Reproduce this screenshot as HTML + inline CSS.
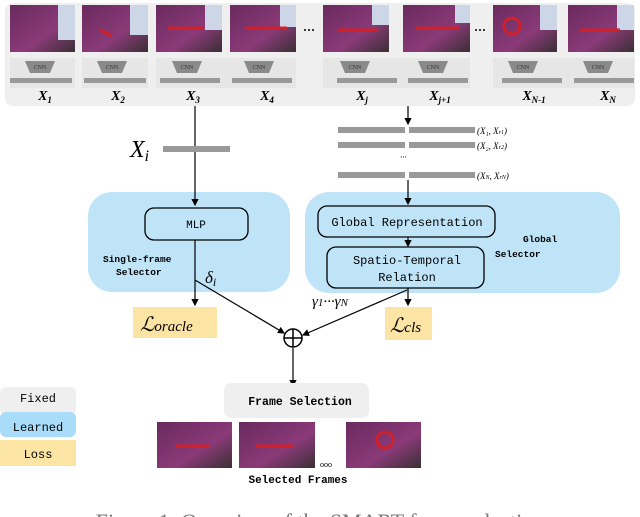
<!DOCTYPE html>
<html><head><meta charset="utf-8"><style>
body{margin:0;background:#fff}
svg{display:block}
.m{font-family:"Liberation Mono",monospace}
.s{font-family:"Liberation Serif",serif}
</style></head><body>
<svg width="640" height="517" viewBox="0 0 640 517" xmlns="http://www.w3.org/2000/svg">
<defs>
<linearGradient id="fr" x1="0" y1="0" x2="1" y2="1">
<stop offset="0" stop-color="#6a2a5e"/><stop offset="0.6" stop-color="#8a3a78"/><stop offset="1" stop-color="#3a3034"/>
</linearGradient>
<marker id="a" markerWidth="6" markerHeight="6" refX="5" refY="3" orient="auto"><path d="M0,0 L6,3 L0,6z" fill="#000"/></marker>
</defs>
<rect x="5" y="3" width="630" height="103" rx="8" fill="#efefef"/>
<g id="frames">
<g fill="url(#fr)">
<rect x="10" y="5" width="65" height="47"/><rect x="82" y="5" width="66" height="47"/>
<rect x="156" y="5" width="66" height="47"/><rect x="230" y="5" width="66" height="47"/>
<rect x="323" y="5" width="66" height="47"/><rect x="403" y="5" width="67" height="47"/>
<rect x="493" y="5" width="64" height="47"/><rect x="568" y="5" width="66" height="47"/>
</g>
<g fill="#ccd6e6"><rect x="58" y="5" width="17" height="35"/><rect x="130" y="5" width="18" height="30"/><rect x="205" y="5" width="17" height="25"/><rect x="280" y="5" width="16" height="22"/><rect x="372" y="5" width="17" height="20"/><rect x="455" y="5" width="15" height="18"/><rect x="540" y="5" width="17" height="25"/><rect x="617" y="5" width="17" height="25"/></g>
<g fill="none" stroke="#d0202a" stroke-width="3"><path d="M100,30 l12,6"/><path d="M168,28 h35"/><path d="M245,28 h42"/><path d="M338,30 h40"/><path d="M415,28 h45"/><circle cx="512" cy="26" r="8"/><path d="M580,30 h40"/></g>
</g>
<g fill="#000"><circle cx="305" cy="30" r="1"/><circle cx="309" cy="30" r="1"/><circle cx="313" cy="30" r="1"/><circle cx="476" cy="30" r="1"/><circle cx="480" cy="30" r="1"/><circle cx="484" cy="30" r="1"/></g>
<g fill="#e6e6e6"><rect x="10" y="58" width="65" height="30"/><rect x="82" y="58" width="66" height="30"/><rect x="156" y="58" width="140" height="30"/><rect x="323" y="58" width="147" height="30"/><rect x="493" y="58" width="141" height="30"/></g>
<g fill="#8a8a8a" id="cnn">
<path d="M25,61 h30 l-5,12 h-20z"/><path d="M97,61 h30 l-5,12 h-20z"/><path d="M172,61 h30 l-5,12 h-20z"/><path d="M244,61 h30 l-5,12 h-20z"/>
<path d="M340,61 h30 l-5,12 h-20z"/><path d="M418,61 h30 l-5,12 h-20z"/><path d="M508,61 h30 l-5,12 h-20z"/><path d="M583,61 h30 l-5,12 h-20z"/>
</g>
<g font-family="Liberation Serif" font-size="6" fill="#333" text-anchor="middle"><text x="40" y="69">CNN</text><text x="112" y="69">CNN</text><text x="187" y="69">CNN</text><text x="259" y="69">CNN</text><text x="355" y="69">CNN</text><text x="433" y="69">CNN</text><text x="523" y="69">CNN</text><text x="598" y="69">CNN</text></g>
<g fill="#999"><rect x="10" y="78" width="62" height="5"/><rect x="84" y="78" width="62" height="5"/><rect x="160" y="78" width="60" height="5"/><rect x="232" y="78" width="60" height="5"/><rect x="337" y="78" width="60" height="5"/><rect x="408" y="78" width="60" height="5"/><rect x="502" y="78" width="60" height="5"/><rect x="574" y="78" width="60" height="5"/></g>
<g class="s" font-size="14" font-weight="bold" font-style="italic" fill="#000" text-anchor="middle">
<text x="45" y="100">X<tspan font-size="9" dy="3">1</tspan></text><text x="118" y="100">X<tspan font-size="9" dy="3">2</tspan></text><text x="193" y="100">X<tspan font-size="9" dy="3">3</tspan></text><text x="267" y="100">X<tspan font-size="9" dy="3">4</tspan></text><text x="362" y="100">X<tspan font-size="9" dy="3">j</tspan></text><text x="440" y="100">X<tspan font-size="9" dy="3">j+1</tspan></text><text x="534" y="100">X<tspan font-size="9" dy="3">N-1</tspan></text><text x="608" y="100">X<tspan font-size="9" dy="3">N</tspan></text>
</g>
<rect x="88" y="192" width="202" height="100" rx="24" fill="#bfe4f8"/>
<rect x="305" y="192" width="315" height="101" rx="24" fill="#bfe4f8"/>
<g stroke="#000" stroke-width="1.2" fill="none">
<path d="M195,106 V205" marker-end="url(#a)"/>
<path d="M408,106 V124" marker-end="url(#a)"/>
<path d="M408,180 V204" marker-end="url(#a)"/>
<path d="M408,237 V246" marker-end="url(#a)"/>
<path d="M195,240 V305" marker-end="url(#a)"/>
<path d="M408,288 V305" marker-end="url(#a)"/>
<path d="M195,280 L284,333" marker-end="url(#a)"/>
<path d="M407,290 L303,335" marker-end="url(#a)"/>
<path d="M293,348 V386" marker-end="url(#a)"/>
</g>
<rect x="163" y="146" width="67" height="6" fill="#999"/>
<text x="130" y="157" class="s" font-size="24" font-style="italic">X<tspan font-size="16" dy="4">i</tspan></text>
<g fill="#999"><rect x="338" y="127" width="67" height="6"/><rect x="409" y="127" width="66" height="6"/><rect x="338" y="142" width="67" height="6"/><rect x="409" y="142" width="66" height="6"/><rect x="338" y="172" width="67" height="6"/><rect x="409" y="172" width="66" height="6"/></g>
<g class="s" font-size="9" font-style="italic"><text x="477" y="134">(X₁, X<tspan font-size="6">r1</tspan>)</text><text x="477" y="149">(X₂, X<tspan font-size="6">r2</tspan>)</text><text x="477" y="179">(X<tspan font-size="6">N</tspan>, X<tspan font-size="6">rN</tspan>)</text><text x="400" y="160">···</text></g>
<rect x="145" y="208" width="103" height="32" rx="9" fill="none" stroke="#000" stroke-width="1.3"/>
<text x="196" y="228" class="m" font-size="11" text-anchor="middle">MLP</text>
<text x="103" y="262" class="m" font-size="9.5" font-weight="bold">Single-frame</text>
<text x="116" y="275" class="m" font-size="9.5" font-weight="bold">Selector</text>
<text x="205" y="283" class="s" font-size="17" font-style="italic">δ<tspan font-size="12" dy="3">i</tspan></text>
<rect x="318" y="206" width="177" height="31" rx="9" fill="none" stroke="#000" stroke-width="1.3"/>
<text x="407" y="226" class="m" font-size="12" text-anchor="middle">Global Representation</text>
<rect x="327" y="247" width="157" height="41" rx="9" fill="none" stroke="#000" stroke-width="1.3"/>
<text x="407" y="264" class="m" font-size="12" text-anchor="middle">Spatio-Temporal</text>
<text x="407" y="281" class="m" font-size="12" text-anchor="middle">Relation</text>
<text x="523" y="242" class="m" font-size="9.5" font-weight="bold">Global</text>
<text x="495" y="257" class="m" font-size="9.5" font-weight="bold">Selector</text>
<text x="312" y="306" class="s" font-size="15" font-style="italic">γ<tspan font-size="11">1</tspan>···γ<tspan font-size="11">N</tspan></text>
<rect x="133" y="307" width="84" height="31" fill="#fbe4a4"/>
<text x="140" y="331" class="s" font-size="20" font-style="italic">ℒ<tspan font-size="15">oracle</tspan></text>
<rect x="385" y="307" width="47" height="33" fill="#fbe4a4"/>
<text x="390" y="332" class="s" font-size="20" font-style="italic">ℒ<tspan font-size="15">cls</tspan></text>
<circle cx="293" cy="338" r="9" fill="#fff" stroke="#000" stroke-width="1.5"/>
<path d="M284,338 h18 M293,329 v18" stroke="#000" stroke-width="1.5"/>
<rect x="224" y="383" width="145" height="35" rx="7" fill="#efefef"/>
<text x="300" y="405" class="m" font-size="11.5" font-weight="bold" text-anchor="middle">Frame Selection</text>
<g fill="url(#fr)"><rect x="157" y="422" width="75" height="46"/><rect x="239" y="422" width="76" height="46"/><rect x="346" y="422" width="75" height="46"/></g>
<g fill="none" stroke="#d0202a" stroke-width="3"><path d="M175,446 h35"/><path d="M255,446 h38"/><circle cx="385" cy="440" r="8"/></g>
<text x="320" y="467" font-size="8" class="s">ooo</text>
<text x="298" y="483" class="m" font-size="11" font-weight="bold" text-anchor="middle">Selected Frames</text>
<rect x="0" y="387" width="76" height="28" rx="6" fill="#efefef"/>
<rect x="0" y="412" width="76" height="25" rx="6" fill="#a8dcf8"/>
<rect x="0" y="440" width="76" height="26" fill="#fbe4a4"/>
<g class="m" font-size="12" text-anchor="middle"><text x="38" y="402">Fixed</text><text x="38" y="431">Learned</text><text x="38" y="458">Loss</text></g>
<text x="320" y="529" class="s" font-size="22" fill="#777" text-anchor="middle">Figure 1: Overview of the SMART frame selection</text>
</svg>
</body></html>
